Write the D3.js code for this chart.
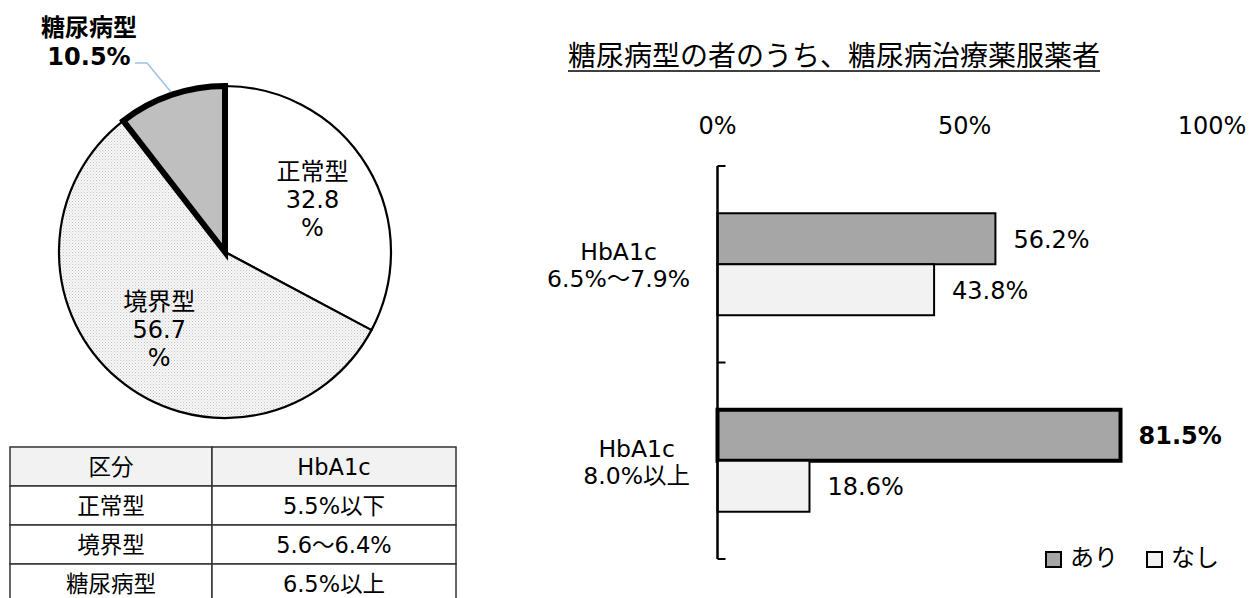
<!DOCTYPE html>
<html>
<head>
<meta charset="utf-8">
<script src="https://cdn.jsdelivr.net/npm/d3@7"></script>
<style>
  body { margin: 0; background: #fff; }
  text { font-family: "DejaVu Sans", "Noto Sans CJK JP", sans-serif; fill: #000; }
</style>
</head>
<body>
<div id="chart-area"></div>
<script>
// pie data
let pieLabels = ["正常型", "境界型", "糖尿病型"];
let pieValues = [32.8, 56.7, 10.5];

// table
let tableHeader = ["区分", "HbA1c"];
let tableCol1 = ["正常型", "境界型", "糖尿病型"];
let tableCol2 = ["5.5%以下", "5.6～6.4%", "6.5%以上"];

// bar chart
let barTitle = "糖尿病型の者のうち、糖尿病治療薬服薬者";
let groups = ["g1", "g2"];
let groupLines = [["HbA1c", "6.5%～7.9%"], ["HbA1c", "8.0%以上"]];
let seriesNames = ["あり", "なし"];
let ariValues = [56.2, 81.5];
let nashiValues = [43.8, 18.6];
let xTicks = [0, 50, 100];

let width = 1250,
height = 598;

let svg = d3.select("#chart-area").append("svg")
  .attr("width", width)
  .attr("height", height);

// dotted fill for 境界型
let defs = svg.append("defs");
let pat = defs.append("pattern")
  .attr("id", "dots")
  .attr("patternUnits", "userSpaceOnUse")
  .attr("width", 3).attr("height", 3);
pat.append("rect").attr("width", 3).attr("height", 3).attr("fill", "#f6f6f6");
pat.append("rect").attr("width", 1).attr("height", 1).attr("fill", "#c4c4c4");
pat.append("rect").attr("x", 1.5).attr("y", 1.5).attr("width", 1).attr("height", 1).attr("fill", "#d6d6d6");

// ---------- PIE ----------
let cx = 225, cy = 252, r = 166;
let pieData = pieLabels.map((d, i) => ({ label: d, value: pieValues[i] }));
let pie = d3.pie().sort(null).value(d => d.value);
let arcs = pie(pieData);
let arc = d3.arc().innerRadius(0).outerRadius(r);
let labelArc = d3.arc().innerRadius(102).outerRadius(102);

let pieFills = ["#ffffff", "url(#dots)", "#bfbfbf"];
let pieG = svg.append("g").attr("transform", `translate(${cx},${cy})`);

pieG.selectAll("path")
  .data(arcs)
  .enter()
  .append("path")
  .attr("d", arc)
  .attr("fill", (d, i) => pieFills[i])
  .attr("stroke", "#000")
  .attr("stroke-width", 2.2)
  .attr("stroke-linejoin", "round");

// thick border on 糖尿病型 drawn on top
pieG.append("path")
  .attr("d", arc(arcs[2]))
  .attr("fill", "none")
  .attr("stroke", "#000")
  .attr("stroke-width", 6)
  .attr("stroke-linejoin", "miter");

// inside labels for first two slices
arcs.slice(0, 2).forEach(d => {
  let c = labelArc.centroid(d);
  let t = pieG.append("text")
    .attr("text-anchor", "middle")
    .attr("font-size", 24);
  let lines = [d.data.label, d.data.value.toFixed(1), "%"];
  lines.forEach((s, j) => {
    t.append("tspan").attr("x", c[0]).attr("y", c[1] - 20 + j * 28).text(s);
  });
});

// outside bold label for 糖尿病型 with leader
let dm = arcs[2];
let outText = svg.append("text")
  .attr("text-anchor", "middle")
  .attr("font-size", 24)
  .attr("font-weight", "bold");
outText.append("tspan").attr("x", 89).attr("y", 36).text(dm.data.label);
outText.append("tspan").attr("x", 89).attr("y", 65).text(dm.data.value.toFixed(1) + "%");

svg.append("polyline")
  .attr("points", "135,63 147,63 171,92")
  .attr("fill", "none")
  .attr("stroke", "#9dc3e6")
  .attr("stroke-width", 1.5);

// ---------- TABLE ----------
let tx = d3.scaleOrdinal().domain([0, 1]).range([10, 212]);
let colW = [202, 244];
let rowY = d3.scaleBand().domain(d3.range(4)).range([447, 603]);
let tableRows = [tableHeader].concat(tableCol1.map((d, i) => [d, tableCol2[i]]));

let tg = svg.append("g");
tableRows.forEach((row, i) => {
  row.forEach((cell, j) => {
    tg.append("rect")
      .attr("x", tx(j)).attr("y", rowY(i))
      .attr("width", colW[j]).attr("height", rowY.bandwidth())
      .attr("fill", i === 0 ? "#f2f2f2" : "#fff")
      .attr("stroke", "#333")
      .attr("stroke-width", 1.5);
    tg.append("text")
      .attr("x", tx(j) + colW[j] / 2)
      .attr("y", rowY(i) + rowY.bandwidth() / 2 + 8)
      .attr("text-anchor", "middle")
      .attr("font-size", 22.5)
      .text(cell);
  });
});

// ---------- BAR CHART ----------
let x = d3.scaleLinear().domain([0, 100]).range([717.5, 1212]);
let y = d3.scaleBand().domain(groups).range([166, 559]).paddingInner(0.481).paddingOuter(0.2405);
let ys = d3.scaleBand().domain(seriesNames).range([0, y.bandwidth()]);
let barFills = { "あり": "#a6a6a6", "なし": "#f2f2f2" };

// title
let title = svg.append("text")
  .attr("x", 568).attr("y", 66)
  .attr("font-size", 28)
  .attr("font-family", "'Noto Sans CJK JP', sans-serif")
  .text(barTitle);
let tw = title.node().getComputedTextLength();
svg.append("line")
  .attr("x1", 568).attr("x2", 568 + tw)
  .attr("y1", 71).attr("y2", 71)
  .attr("stroke", "#000").attr("stroke-width", 1.5);

// top tick labels
svg.selectAll(".xlab")
  .data(xTicks)
  .enter()
  .append("text")
  .attr("class", "xlab")
  .attr("x", d => x(d))
  .attr("y", 134)
  .attr("text-anchor", "middle")
  .attr("font-size", 24)
  .text(d => d + "%");

let barData = [];
groups.forEach((g, i) => {
  barData.push({ g: g, s: "あり", v: ariValues[i], bold: ariValues[i] > 80 });
  barData.push({ g: g, s: "なし", v: nashiValues[i], bold: false });
});

svg.selectAll(".bar")
  .data(barData)
  .enter()
  .append("rect")
  .attr("class", "bar")
  .attr("x", x(0))
  .attr("y", d => y(d.g) + ys(d.s))
  .attr("width", d => x(d.v) - x(0))
  .attr("height", ys.bandwidth())
  .attr("fill", d => barFills[d.s])
  .attr("stroke", "#000")
  .attr("stroke-width", d => d.bold ? 4 : 2);

svg.selectAll(".val")
  .data(barData)
  .enter()
  .append("text")
  .attr("class", "val")
  .attr("x", d => x(d.v) + 18)
  .attr("y", d => y(d.g) + ys(d.s) + ys.bandwidth() / 2 + 9)
  .attr("font-size", 24)
  .attr("font-weight", d => d.bold ? "bold" : "normal")
  .text(d => d.v.toFixed(1) + "%");

// axis line with ticks to the right
let axisG = svg.append("g");
axisG.append("line")
  .attr("x1", x(0)).attr("x2", x(0))
  .attr("y1", 166).attr("y2", 559)
  .attr("stroke", "#000").attr("stroke-width", 2.5);
[166, (166 + 559) / 2, 559].forEach(ty => {
  axisG.append("line")
    .attr("x1", x(0)).attr("x2", x(0) + 8)
    .attr("y1", ty).attr("y2", ty)
    .attr("stroke", "#000").attr("stroke-width", 2);
});

// category labels, right edge at ~690, lines centered
groups.forEach((g, i) => {
  let cyG = y(g) + y.bandwidth() / 2;
  let t = svg.append("text").attr("font-size", 23.5).attr("text-anchor", "middle");
  let spans = groupLines[i].map((s, j) =>
    t.append("tspan").attr("y", cyG - 4 + j * 27).text(s));
  let maxW = d3.max(spans, sp => sp.node().getComputedTextLength());
  spans.forEach(sp => sp.attr("x", 690 - maxW / 2));
});

// legend
let legX = [1046, 1147];
seriesNames.forEach((s, i) => {
  svg.append("rect")
    .attr("x", legX[i]).attr("y", 552)
    .attr("width", 15).attr("height", 15)
    .attr("fill", barFills[s])
    .attr("stroke", "#000").attr("stroke-width", 2);
  svg.append("text")
    .attr("x", legX[i] + 24).attr("y", 566)
    .attr("font-size", 24)
    .text(s);
});
</script>
</body>
</html>
